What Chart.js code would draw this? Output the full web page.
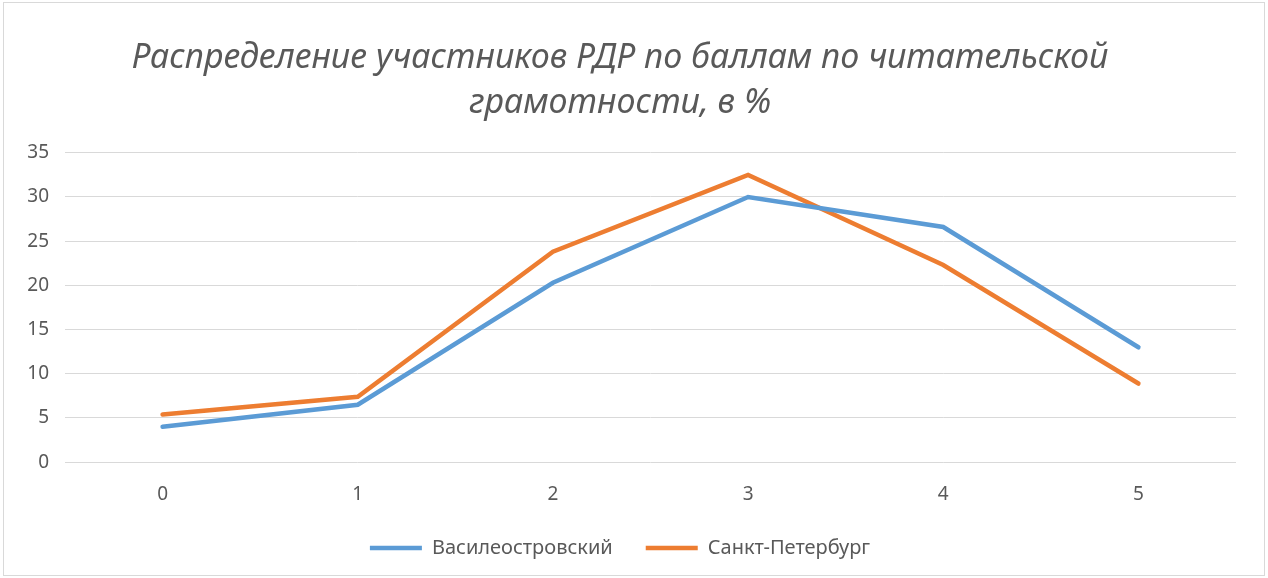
<!DOCTYPE html>
<html>
<head>
<meta charset="utf-8">
<script src="https://cdn.jsdelivr.net/npm/chart.js@4"></script>
<style>
  html, body { margin: 0; padding: 0; background: #fff; }
  #wrap {
    position: absolute; left: 3px; top: 2px;
    width: 1262px; height: 574px;
    border: 1px solid #d9d9d9; box-sizing: border-box;
  }
</style>
</head>
<body>
<div id="wrap"><canvas id="chart"></canvas></div>
<script>
// data
const scores = ['0', '1', '2', '3', '4', '5'];
const vasileostrovsky = [4.0, 6.5, 20.3, 30.0, 26.6, 13.0];
const spb = [5.4, 7.4, 23.8, 32.5, 22.3, 8.9];
const yTicks = [0, 5, 10, 15, 20, 25, 30, 35];

const grey = '#595959';
const font = "'Noto Sans', 'Open Sans', sans-serif";

const ctx = document.getElementById('chart').getContext('2d');
new Chart(ctx, {
  type: 'line',
  data: {
    labels: scores,
    datasets: [
      {
        label: 'Василеостровский',
        data: vasileostrovsky,
        borderColor: '#5B9BD5',
        backgroundColor: '#5B9BD5',
        borderWidth: 4.5,
        borderCapStyle: 'round',
        pointRadius: 0,
        tension: 0
      },
      {
        label: 'Санкт-Петербург',
        data: spb,
        borderColor: '#ED7D31',
        backgroundColor: '#ED7D31',
        borderWidth: 4.5,
        borderCapStyle: 'round',
        pointRadius: 0,
        tension: 0
      }
    ]
  },
  options: {
    responsive: true,
    maintainAspectRatio: false,
    animation: false,
    layout: { padding: { left: 0, right: 28, top: 0, bottom: 7 } },
    plugins: {
      title: {
        display: true,
        text: ['Распределение участников РДР по баллам по читательской', 'грамотности, в %'],
        color: grey,
        font: { family: font, size: 34, style: 'italic', weight: 'normal', lineHeight: 1.32 },
        padding: { top: 33, bottom: 27 }
      },
      legend: {
        position: 'bottom',
        labels: {
          color: grey,
          font: { family: font, size: 20 },
          usePointStyle: true,
          pointStyle: 'line',
          pointStyleWidth: 52,
          padding: 33
        }
      },
      tooltip: { enabled: false }
    },
    scales: {
      x: {
        offset: true,
        afterFit: axis => { axis.height -= 14; },
        grid: { display: false },
        border: { display: false },
        ticks: { color: grey, font: { family: font, size: 19 }, padding: 13 }
      },
      y: {
        min: 0,
        max: 35,
        afterBuildTicks: axis => { axis.ticks = yTicks.map(v => ({ value: v })); },
        afterFit: axis => { axis.width = 61; },
        grid: { color: '#d9d9d9', lineWidth: 1, drawTicks: false },
        border: { display: false },
        ticks: { color: grey, font: { family: font, size: 19 }, padding: 16 }
      }
    }
  }
});
</script>
</body>
</html>
